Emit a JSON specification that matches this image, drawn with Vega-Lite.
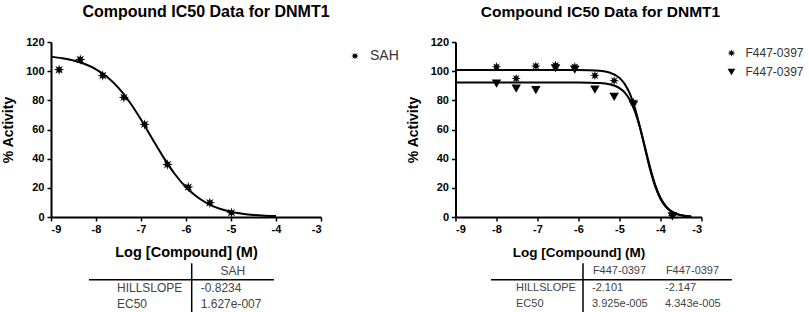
{
  "$schema": "https://vega.github.io/schema/vega-lite/v6.json",
  "padding": {"left": 1, "top": 4, "right": 5, "bottom": 0},
  "background": "white",
  "config": {
    "view": {"stroke": null},
    "font": "Liberation Sans, Arial, sans-serif",
    "axis": {"domainColor": "black", "domainWidth": 2, "tickColor": "black", "tickWidth": 1.5, "tickSize": 4, "labelPadding": 2, "labelFont": "Liberation Sans, Arial, sans-serif", "labelFontWeight": "bold", "labelFontSize": 11, "labelColor": "black", "labelOverlap": false, "titleFont": "Liberation Sans, Arial, sans-serif", "titleFontWeight": "bold", "titleColor": "black", "grid": false},
    "axisY": {"labelPadding": 3, "titlePadding": 10, "titleFontSize": 14},
    "axisX": {"titlePadding": 11},
    "title": {"font": "Liberation Sans, Arial, sans-serif", "fontWeight": "bold", "color": "black", "anchor": "middle", "frame": "group"},
    "legend": {"labelFont": "Liberation Sans, Arial, sans-serif", "labelColor": "#333", "symbolFillColor": "black", "symbolStrokeColor": "black", "symbolSize": 60, "labelOffset": 8}
  },
  "datasets": {
    "curves": [
      {"series": "SAH", "logc": -9, "fit": 109.8}, {"series": "SAH", "logc": -8.75, "fit": 108.9}, {"series": "SAH", "logc": -8.5, "fit": 107.3}, {"series": "SAH", "logc": -8.25, "fit": 104.9}, {"series": "SAH", "logc": -8, "fit": 101.3}, {"series": "SAH", "logc": -7.75, "fit": 96.0}, {"series": "SAH", "logc": -7.5, "fit": 88.5}, {"series": "SAH", "logc": -7.25, "fit": 78.7}, {"series": "SAH", "logc": -7, "fit": 66.8}, {"series": "SAH", "logc": -6.75, "fit": 53.7}, {"series": "SAH", "logc": -6.5, "fit": 40.9}, {"series": "SAH", "logc": -6.25, "fit": 29.5}, {"series": "SAH", "logc": -6, "fit": 20.4}, {"series": "SAH", "logc": -5.75, "fit": 13.7}, {"series": "SAH", "logc": -5.5, "fit": 8.9}, {"series": "SAH", "logc": -5.25, "fit": 5.7}, {"series": "SAH", "logc": -5, "fit": 3.6}, {"series": "SAH", "logc": -4.75, "fit": 2.3}, {"series": "SAH", "logc": -4.5, "fit": 1.4}, {"series": "SAH", "logc": -4.25, "fit": 0.9}, {"series": "SAH", "logc": -4, "fit": 0.6},
      {"series": "F447-0397 #1", "logc": -9, "fit": 100.8}, {"series": "F447-0397 #1", "logc": -8, "fit": 100.8}, {"series": "F447-0397 #1", "logc": -7, "fit": 100.8}, {"series": "F447-0397 #1", "logc": -6, "fit": 100.76}, {"series": "F447-0397 #1", "logc": -5.75, "fit": 100.65}, {"series": "F447-0397 #1", "logc": -5.5, "fit": 100.3}, {"series": "F447-0397 #1", "logc": -5.25, "fit": 99.1}, {"series": "F447-0397 #1", "logc": -5, "fit": 95.4}, {"series": "F447-0397 #1", "logc": -4.875, "fit": 91.3}, {"series": "F447-0397 #1", "logc": -4.75, "fit": 84.7}, {"series": "F447-0397 #1", "logc": -4.625, "fit": 74.8}, {"series": "F447-0397 #1", "logc": -4.5, "fit": 61.6}, {"series": "F447-0397 #1", "logc": -4.375, "fit": 46.6}, {"series": "F447-0397 #1", "logc": -4.25, "fit": 32.2}, {"series": "F447-0397 #1", "logc": -4.125, "fit": 20.6}, {"series": "F447-0397 #1", "logc": -4, "fit": 12.4}, {"series": "F447-0397 #1", "logc": -3.875, "fit": 7.2}, {"series": "F447-0397 #1", "logc": -3.75, "fit": 4.0}, {"series": "F447-0397 #1", "logc": -3.625, "fit": 2.2}, {"series": "F447-0397 #1", "logc": -3.5, "fit": 1.2}, {"series": "F447-0397 #1", "logc": -3.375, "fit": 0.7}, {"series": "F447-0397 #1", "logc": -3.25, "fit": 0.4},
      {"series": "F447-0397 #2", "logc": -9, "fit": 92.2}, {"series": "F447-0397 #2", "logc": -8, "fit": 92.2}, {"series": "F447-0397 #2", "logc": -7, "fit": 92.2}, {"series": "F447-0397 #2", "logc": -6, "fit": 92.17}, {"series": "F447-0397 #2", "logc": -5.75, "fit": 92.1}, {"series": "F447-0397 #2", "logc": -5.5, "fit": 91.87}, {"series": "F447-0397 #2", "logc": -5.25, "fit": 91.07}, {"series": "F447-0397 #2", "logc": -5, "fit": 88.42}, {"series": "F447-0397 #2", "logc": -4.875, "fit": 85.43}, {"series": "F447-0397 #2", "logc": -4.75, "fit": 80.38}, {"series": "F447-0397 #2", "logc": -4.625, "fit": 72.44}, {"series": "F447-0397 #2", "logc": -4.5, "fit": 61.22}, {"series": "F447-0397 #2", "logc": -4.375, "fit": 47.55}, {"series": "F447-0397 #2", "logc": -4.25, "fit": 33.64}, {"series": "F447-0397 #2", "logc": -4.125, "fit": 21.8}, {"series": "F447-0397 #2", "logc": -4, "fit": 13.18}, {"series": "F447-0397 #2", "logc": -3.875, "fit": 7.61}, {"series": "F447-0397 #2", "logc": -3.75, "fit": 4.26}, {"series": "F447-0397 #2", "logc": -3.625, "fit": 2.35}, {"series": "F447-0397 #2", "logc": -3.5, "fit": 1.28}, {"series": "F447-0397 #2", "logc": -3.375, "fit": 0.7}, {"series": "F447-0397 #2", "logc": -3.25, "fit": 0.37}
    ],
    "points": [
      {"series": "SAH", "logc": -8.82, "activity": 101}, {"series": "SAH", "logc": -8.35, "activity": 108}, {"series": "SAH", "logc": -7.85, "activity": 97}, {"series": "SAH", "logc": -7.38, "activity": 82}, {"series": "SAH", "logc": -6.92, "activity": 63.5}, {"series": "SAH", "logc": -6.41, "activity": 36}, {"series": "SAH", "logc": -5.95, "activity": 20.5}, {"series": "SAH", "logc": -5.47, "activity": 9.8}, {"series": "SAH", "logc": -4.99, "activity": 3},
      {"series": "F447-0397 #2", "logc": -8.0, "activity": 91.5}, {"series": "F447-0397 #2", "logc": -7.52, "activity": 88}, {"series": "F447-0397 #2", "logc": -7.04, "activity": 87}, {"series": "F447-0397 #2", "logc": -6.56, "activity": 102}, {"series": "F447-0397 #2", "logc": -6.09, "activity": 101}, {"series": "F447-0397 #2", "logc": -5.6, "activity": 87.3}, {"series": "F447-0397 #2", "logc": -5.13, "activity": 82.3}, {"series": "F447-0397 #2", "logc": -4.66, "activity": 77}, {"series": "F447-0397 #2", "logc": -3.71, "activity": 0.5},
      {"series": "F447-0397 #1", "logc": -8.0, "activity": 103}, {"series": "F447-0397 #1", "logc": -7.52, "activity": 95}, {"series": "F447-0397 #1", "logc": -7.04, "activity": 103.5}, {"series": "F447-0397 #1", "logc": -6.56, "activity": 104}, {"series": "F447-0397 #1", "logc": -6.09, "activity": 103}, {"series": "F447-0397 #1", "logc": -5.6, "activity": 97}, {"series": "F447-0397 #1", "logc": -5.13, "activity": 93.5}, {"series": "F447-0397 #1", "logc": -4.66, "activity": 78.5}, {"series": "F447-0397 #1", "logc": -3.71, "activity": 1}
    ],
    "table": [
      {"table": "L", "row": "header", "col": "SAH", "text": "SAH"},
      {"table": "L", "row": "HILLSLOPE", "col": "label", "text": "HILLSLOPE"},
      {"table": "L", "row": "HILLSLOPE", "col": "SAH", "text": "-0.8234"},
      {"table": "L", "row": "EC50", "col": "label", "text": "EC50"},
      {"table": "L", "row": "EC50", "col": "SAH", "text": "1.627e-007"},
      {"table": "R", "row": "header", "col": "F447-0397 #1", "text": "F447-0397"},
      {"table": "R", "row": "header", "col": "F447-0397 #2", "text": "F447-0397"},
      {"table": "R", "row": "HILLSLOPE", "col": "label", "text": "HILLSLOPE"},
      {"table": "R", "row": "HILLSLOPE", "col": "F447-0397 #1", "text": "-2.101"},
      {"table": "R", "row": "HILLSLOPE", "col": "F447-0397 #2", "text": "-2.147"},
      {"table": "R", "row": "EC50", "col": "label", "text": "EC50"},
      {"table": "R", "row": "EC50", "col": "F447-0397 #1", "text": "3.925e-005"},
      {"table": "R", "row": "EC50", "col": "F447-0397 #2", "text": "4.343e-005"}
    ]
  },
  "vconcat": [
    {
      "hconcat": [
        {
          "width": 270, "height": 175,
          "title": {"text": "Compound IC50 Data for DNMT1", "fontSize": 16, "dx": 20, "offset": 16},
          "layer": [
            {
              "data": {"name": "curves"},
              "transform": [{"filter": "datum.series == 'SAH'"}],
              "mark": {"type": "line", "color": "black", "strokeWidth": 2, "interpolate": "monotone"},
              "encoding": {
                "x": {"field": "logc", "type": "quantitative", "scale": {"domain": [-9, -3], "nice": false, "zero": false}, "axis": {"title": "Log [Compound] (M)", "values": [-9, -8, -7, -6, -5, -4, -3], "labelExpr": "'' + datum.value", "titleFontSize": 14.5}},
                "y": {"field": "fit", "type": "quantitative", "scale": {"domain": [0, 120], "nice": false}, "axis": {"title": "% Activity", "values": [0, 20, 40, 60, 80, 100, 120], "labelExpr": "'' + datum.value"}},
                "detail": {"field": "series"}
              }
            },
            {
              "data": {"name": "points"},
              "transform": [{"filter": "datum.series == 'SAH'"}],
              "mark": {"type": "point", "filled": true, "color": "black", "opacity": 1, "size": 110},
              "encoding": {
                "x": {"field": "logc", "type": "quantitative", "axis": {"title": "Log [Compound] (M)", "values": [-9, -8, -7, -6, -5, -4, -3], "labelExpr": "'' + datum.value", "titleFontSize": 14.5}},
                "y": {"field": "activity", "type": "quantitative", "axis": {"title": "% Activity", "values": [0, 20, 40, 60, 80, 100, 120], "labelExpr": "'' + datum.value"}},
                "shape": {"field": "series", "type": "nominal", "scale": {"domain": ["SAH"], "range": ["M0,-1L0.172,-0.416L0.707,-0.707L0.416,-0.172L1,0L0.416,0.172L0.707,0.707L0.172,0.416L0,1L-0.172,0.416L-0.707,0.707L-0.416,0.172L-1,0L-0.416,-0.172L-0.707,-0.707L-0.172,-0.416Z"]}, "legend": {"title": null, "orient": "right", "offset": 20, "padding": 7, "labelFontSize": 14}}
              }
            }
          ]
        },
        {
          "width": 246, "height": 175,
          "title": {"text": "Compound IC50 Data for DNMT1", "fontSize": 15.5, "dx": 22, "offset": 16},
          "layer": [
            {
              "data": {"name": "curves"},
              "transform": [{"filter": "datum.series != 'SAH'"}],
              "mark": {"type": "line", "color": "black", "strokeWidth": 2, "interpolate": "monotone"},
              "encoding": {
                "x": {"field": "logc", "type": "quantitative", "scale": {"domain": [-9, -3], "nice": false, "zero": false}, "axis": {"title": "Log [Compound] (M)", "values": [-9, -8, -7, -6, -5, -4, -3], "labelExpr": "'' + datum.value", "titleFontSize": 13.5}},
                "y": {"field": "fit", "type": "quantitative", "scale": {"domain": [0, 120], "nice": false}, "axis": {"title": "% Activity", "values": [0, 20, 40, 60, 80, 100, 120], "labelExpr": "'' + datum.value"}},
                "detail": {"field": "series"}
              }
            },
            {
              "data": {"name": "points"},
              "transform": [{"filter": "datum.series != 'SAH'"}],
              "mark": {"type": "point", "filled": true, "color": "black", "opacity": 1, "size": 90},
              "encoding": {
                "x": {"field": "logc", "type": "quantitative", "axis": {"title": "Log [Compound] (M)", "values": [-9, -8, -7, -6, -5, -4, -3], "labelExpr": "'' + datum.value", "titleFontSize": 13.5}},
                "y": {"field": "activity", "type": "quantitative", "axis": {"title": "% Activity", "values": [0, 20, 40, 60, 80, 100, 120], "labelExpr": "'' + datum.value"}},
                "shape": {"field": "series", "type": "nominal", "scale": {"domain": ["F447-0397 #1", "F447-0397 #2"], "range": ["M0,-1L0.172,-0.416L0.707,-0.707L0.416,-0.172L1,0L0.416,0.172L0.707,0.707L0.172,0.416L0,1L-0.172,0.416L-0.707,0.707L-0.416,0.172L-1,0L-0.416,-0.172L-0.707,-0.707L-0.172,-0.416Z", "triangle-down"]}, "legend": {"title": null, "orient": "right", "offset": 19, "padding": 5, "labelFontSize": 12, "rowPadding": 5, "labelExpr": "substring(datum.label, 0, 9)"}}
              }
            }
          ]
        }
      ],
      "spacing": 134.5,
      "bounds": "flush",
      "resolve": {"scale": {"x": "independent", "y": "independent", "shape": "independent"}, "axis": {"x": "independent", "y": "independent"}, "legend": {"shape": "independent"}}
    },
    {
      "hconcat": [
        {
          "width": 223, "height": 49,
          "data": {"name": "table"},
          "transform": [{"filter": "datum.table == 'L'"}],
          "layer": [
            {
              "data": {"values": [{}]},
              "mark": {"type": "rule", "color": "black", "strokeWidth": 1.5},
              "encoding": {
                "x": {"datum": "label", "type": "nominal", "bandPosition": -0.248, "scale": {"domain": ["label", "SAH"], "paddingInner": 0, "paddingOuter": 0.3548, "align": 1}, "axis": null},
                "x2": {"datum": "SAH", "bandPosition": 1},
                "y": {"datum": "HILLSLOPE", "type": "nominal", "bandPosition": 0, "scale": {"domain": ["header", "HILLSLOPE", "EC50"], "paddingInner": 0, "paddingOuter": 0}, "axis": null}
              }
            },
            {
              "data": {"values": [{}]},
              "mark": {"type": "rule", "color": "black", "strokeWidth": 1.5},
              "encoding": {
                "x": {"datum": "SAH", "type": "nominal", "bandPosition": 0}
              }
            },
            {
              "transform": [{"filter": "datum.col == 'label'"}],
              "mark": {"type": "text", "align": "left", "baseline": "middle", "dx": 7.6, "fontSize": 12, "color": "#444"},
              "encoding": {
                "x": {"field": "col", "type": "nominal", "bandPosition": 0},
                "y": {"field": "row", "type": "nominal"},
                "text": {"field": "text"}
              }
            },
            {
              "transform": [{"filter": "datum.row == 'header'"}],
              "mark": {"type": "text", "align": "center", "baseline": "middle", "fontSize": 12, "color": "#444"},
              "encoding": {
                "x": {"field": "col", "type": "nominal", "bandPosition": 0.5},
                "y": {"field": "row", "type": "nominal"},
                "text": {"field": "text"}
              }
            },
            {
              "transform": [{"filter": "datum.row != 'header' && datum.col != 'label'"}],
              "mark": {"type": "text", "align": "left", "baseline": "middle", "dx": 9, "fontSize": 12, "color": "#444"},
              "encoding": {
                "x": {"field": "col", "type": "nominal", "bandPosition": 0},
                "y": {"field": "row", "type": "nominal"},
                "text": {"field": "text"}
              }
            }
          ]
        },
        {
          "width": 219, "height": 49,
          "data": {"name": "table"},
          "transform": [{"filter": "datum.table == 'R'"}],
          "layer": [
            {
              "data": {"values": [{}]},
              "mark": {"type": "rule", "color": "black", "strokeWidth": 1.5},
              "encoding": {
                "x": {"datum": "label", "type": "nominal", "bandPosition": -0.26, "scale": {"domain": ["label", "F447-0397 #1", "F447-0397 #2"], "paddingInner": 0, "paddingOuter": 0}, "axis": null},
                "x2": {"datum": "F447-0397 #2", "bandPosition": 1.04},
                "y": {"datum": "HILLSLOPE", "type": "nominal", "bandPosition": 0, "scale": {"domain": ["header", "HILLSLOPE", "EC50"], "paddingInner": 0, "paddingOuter": 0}, "axis": null}
              }
            },
            {
              "data": {"values": [{}]},
              "mark": {"type": "rule", "color": "black", "strokeWidth": 1.5},
              "encoding": {
                "x": {"datum": "F447-0397 #1", "type": "nominal", "bandPosition": 0}
              }
            },
            {
              "transform": [{"filter": "datum.col == 'label'"}],
              "mark": {"type": "text", "align": "left", "baseline": "middle", "dx": 6, "fontSize": 11, "color": "#444"},
              "encoding": {
                "x": {"field": "col", "type": "nominal", "bandPosition": 0},
                "y": {"field": "row", "type": "nominal"},
                "text": {"field": "text"}
              }
            },
            {
              "transform": [{"filter": "datum.row == 'header'"}],
              "mark": {"type": "text", "align": "center", "baseline": "middle", "fontSize": 11, "color": "#444"},
              "encoding": {
                "x": {"field": "col", "type": "nominal", "bandPosition": 0.5},
                "y": {"field": "row", "type": "nominal"},
                "text": {"field": "text"}
              }
            },
            {
              "transform": [{"filter": "datum.row != 'header' && datum.col != 'label'"}],
              "mark": {"type": "text", "align": "left", "baseline": "middle", "dx": 9, "fontSize": 11, "color": "#444"},
              "encoding": {
                "x": {"field": "col", "type": "nominal", "bandPosition": 0},
                "y": {"field": "row", "type": "nominal"},
                "text": {"field": "text"}
              }
            }
          ]
        }
      ],
      "spacing": 236,
      "bounds": "flush",
      "resolve": {"scale": {"x": "independent", "y": "independent"}}
    }
  ],
  "spacing": 221.3,
  "bounds": "flush",
  "resolve": {"scale": {"x": "independent", "y": "independent", "shape": "independent"}, "legend": {"shape": "independent"}}
}
